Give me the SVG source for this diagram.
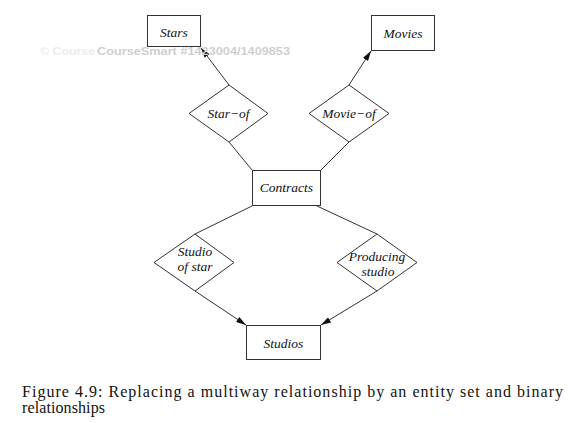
<svg xmlns="http://www.w3.org/2000/svg" width="569" height="423" viewBox="0 0 569 423">
<style>
.box{fill:#fff;stroke:#333;stroke-width:1}
.dia{fill:#fff;stroke:#333;stroke-width:1}
.lbl{font-family:'Liberation Serif','DejaVu Serif',serif;font-style:italic;font-size:13.5px;fill:#111;text-anchor:middle}
.edge{stroke:#333;stroke-width:1;fill:none}
.cap{font-family:'Liberation Serif','DejaVu Serif',serif;font-size:16px;fill:#111}
.wm{font-family:'Liberation Sans','DejaVu Sans',sans-serif;font-weight:bold;font-size:11.5px}
</style>
<defs>
<marker id="arr" viewBox="0 0 10 6" refX="10" refY="3" markerWidth="10" markerHeight="6" markerUnits="userSpaceOnUse" orient="auto">
<path d="M0,0 L10,3 L0,6 Z" fill="#111"/>
</marker>
</defs>
<rect width="569" height="423" fill="#fff"/>
<g id="connectors">
<line class="edge" x1="229" y1="85" x2="201" y2="48" marker-end="url(#arr)"/>
<line class="edge" x1="349" y1="85" x2="371" y2="51" marker-end="url(#arr)"/>
<line class="edge" x1="229" y1="142" x2="252" y2="170"/>
<line class="edge" x1="349" y1="142" x2="321" y2="170"/>
<line class="edge" x1="252" y1="206" x2="195" y2="234"/>
<line class="edge" x1="317" y1="206" x2="377" y2="234"/>
<line class="edge" x1="195" y1="291" x2="246" y2="325" marker-end="url(#arr)"/>
<line class="edge" x1="377" y1="291" x2="321" y2="325" marker-end="url(#arr)"/>
</g>
<g id="stars">
<rect class="box" x="147.5" y="15.5" width="53" height="31"/>
<text class="lbl" x="174" y="37">Stars</text>
</g>
<g id="movies">
<rect class="box" x="371.5" y="15.5" width="63" height="35"/>
<text class="lbl" x="403" y="38">Movies</text>
</g>
<g id="star-of">
<polygon class="dia" points="229,85 268,113.5 229,142 189,113.5"/>
<text class="lbl" x="228.5" y="118">Star−of</text>
</g>
<g id="movie-of">
<polygon class="dia" points="349,85 389,113.5 349,142 309,113.5"/>
<text class="lbl" x="349" y="118">Movie−of</text>
</g>
<g id="contracts">
<rect class="box" x="252.5" y="170.5" width="68" height="35"/>
<text class="lbl" x="286.5" y="192">Contracts</text>
</g>
<g id="studio-of-star">
<polygon class="dia" points="195,234 234,262.5 195,291 154,262.5"/>
<text class="lbl" x="195" y="256">Studio</text>
<text class="lbl" x="195" y="271">of star</text>
</g>
<g id="producing-studio">
<polygon class="dia" points="377,234 417,262.5 377,291 337,262.5"/>
<text class="lbl" x="377" y="261">Producing</text>
<text class="lbl" x="378" y="276">studio</text>
</g>
<g id="studios">
<rect class="box" x="246.5" y="325.5" width="74" height="34"/>
<text class="lbl" x="283.5" y="348">Studios</text>
</g>
<g id="watermark">
<text class="wm" x="40" y="55" fill="#ececec" textLength="55" lengthAdjust="spacingAndGlyphs">© Course</text>
<text class="wm" x="97" y="55" fill="#cfcfcf" textLength="193" lengthAdjust="spacingAndGlyphs">CourseSmart #1423004/1409853</text>
</g>
<g id="caption">
<text class="cap" x="22" y="397" textLength="541" lengthAdjust="spacing">Figure 4.9:  Replacing a multiway relationship by an entity set and binary</text>
<text class="cap" x="22" y="413" textLength="83" lengthAdjust="spacing">relationships</text>
</g>
</svg>
